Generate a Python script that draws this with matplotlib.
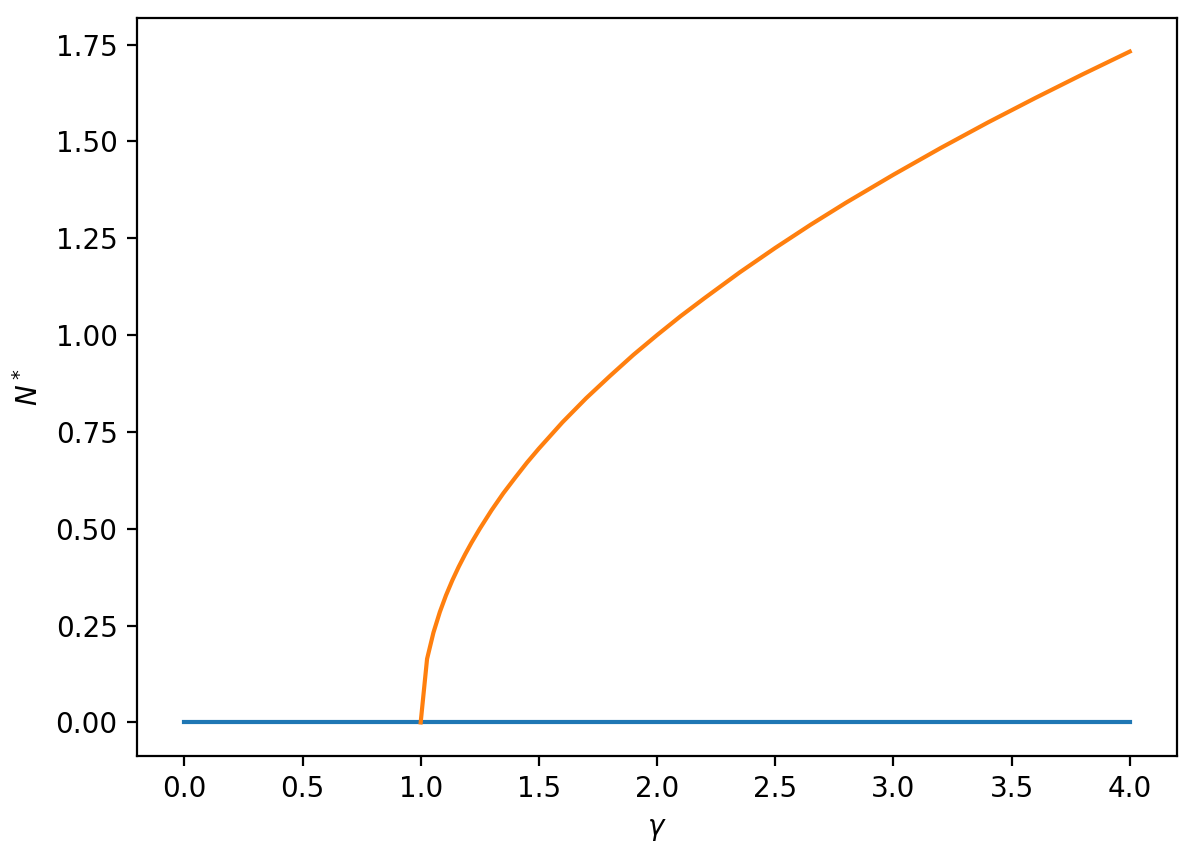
import numpy as np
import matplotlib
matplotlib.use("Agg")
import matplotlib.pyplot as plt

# trivial fixed point (N* = 0) across the whole range
gamma_zero = [0.0, 4.0]
n_zero = [0.0, 0.0]

# nontrivial branch
gamma_branch = [1.00, 1.027, 1.054, 1.081, 1.107, 1.134, 1.161, 1.188, 1.215, 1.25,
                1.30, 1.35, 1.40, 1.45, 1.50, 1.60, 1.70, 1.80, 1.90, 2.00,
                2.10, 2.20, 2.35, 2.50, 2.65, 2.80, 3.00, 3.20, 3.40, 3.60,
                3.80, 4.00]
n_branch = [0.000, 0.164, 0.232, 0.285, 0.328, 0.367, 0.402, 0.434, 0.464, 0.500,
            0.548, 0.592, 0.632, 0.671, 0.707, 0.775, 0.837, 0.894, 0.949, 1.000,
            1.049, 1.095, 1.162, 1.225, 1.285, 1.342, 1.414, 1.483, 1.549, 1.612,
            1.673, 1.732]

fig = plt.figure(figsize=(5.985, 4.29), dpi=200)
ax = fig.add_axes([0.1145, 0.1189, 0.8688, 0.8601])

ax.plot(gamma_zero, n_zero)
ax.plot(gamma_branch, n_branch)

ax.set_xlabel(r"$\gamma$")
ax.set_ylabel(r"$N^*$")
ax.set_xticks(np.arange(0, 4.01, 0.5))
ax.set_yticks(np.arange(0, 1.76, 0.25))

fig.savefig("out.png", dpi=200)
